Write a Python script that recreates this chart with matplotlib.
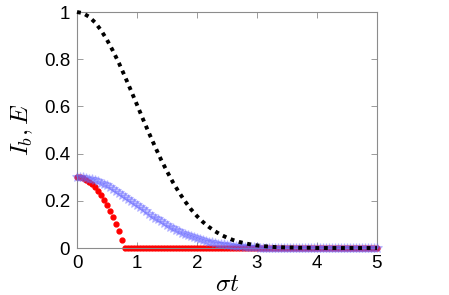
import numpy as np
import matplotlib
matplotlib.use("Agg")
import matplotlib.pyplot as plt

plt.rcParams['font.family'] = ['Liberation Sans', 'DejaVu Sans']
plt.rcParams['mathtext.fontset'] = 'cm'

# black dotted curve, sampled every 0.1 in sigma*t
t_black = np.arange(0, 5.001, 0.1)
I_black = [1.000, 0.995, 0.980, 0.956, 0.923, 0.882, 0.835, 0.783, 0.726, 0.667,
           0.607, 0.546, 0.487, 0.430, 0.375, 0.325, 0.278, 0.236, 0.198, 0.164,
           0.135, 0.110, 0.089, 0.071, 0.056, 0.044, 0.034, 0.026, 0.020, 0.015,
           0.011, 0.008, 0.006, 0.004, 0.003, 0.002, 0.002, 0.001, 0.001, 0.001,
           0.000] + [0.0] * 10

# blue stars and red dots, sampled every 0.05
t_pts = np.arange(0, 5.001, 0.05)
I_blue = [0.300, 0.300, 0.299, 0.297, 0.294, 0.291, 0.287, 0.282, 0.277, 0.271,
          0.265, 0.258, 0.251, 0.243, 0.235, 0.226, 0.218, 0.209, 0.200, 0.191,
          0.182, 0.173, 0.164, 0.155, 0.146, 0.137, 0.129, 0.121, 0.113, 0.105,
          0.097, 0.090, 0.083, 0.077, 0.071, 0.065, 0.059, 0.054, 0.049, 0.045,
          0.041, 0.037, 0.033, 0.030, 0.027, 0.024, 0.021, 0.019, 0.017, 0.015,
          0.013, 0.012, 0.010, 0.009, 0.008, 0.007, 0.006, 0.005, 0.004, 0.004,
          0.003] + [0.0] * 40
E_red = [0.300, 0.299, 0.295, 0.289, 0.281, 0.271, 0.258, 0.243, 0.225, 0.205,
         0.183, 0.158, 0.131, 0.101, 0.070, 0.036, 0.000] + [0.0] * 84

fig = plt.figure(figsize=(4.49, 2.95), dpi=100)
ax = fig.add_axes([0.1715, 0.1593, 0.668, 0.8])

ax.plot(t_pts, E_red, '.', color='red', markersize=7, zorder=2, clip_on=False)
ax.plot(t_pts, I_blue, '*', color=(0.4, 0.4, 1.0), alpha=0.35,
        markersize=7, markeredgewidth=0.8, zorder=3, clip_on=False)
ax.plot(t_black, I_black, color='black', linewidth=2.8, dashes=(1, 1.2),
        dash_capstyle='butt', zorder=4, clip_on=False)

ax.set_xlim(0, 5)
ax.set_ylim(0, 1)
ax.set_xticks([0, 1, 2, 3, 4, 5])
ax.set_yticks([0, 0.2, 0.4, 0.6, 0.8, 1])
ax.set_yticklabels(['0', '0.2', '0.4', '0.6', '0.8', '1'])
ax.tick_params(direction='in', length=4, width=0.6, color='0.55',
               labelsize=13.5, top=True, right=True, pad=5)
for s in ax.spines.values():
    s.set_color('0.55')
    s.set_linewidth(0.8)

ax.set_xlabel(r'$\sigma t$', fontsize=18, labelpad=0)
ax.set_ylabel(r'$I_b, E$', fontsize=18, labelpad=6)

fig.savefig('out.png', dpi=100)
